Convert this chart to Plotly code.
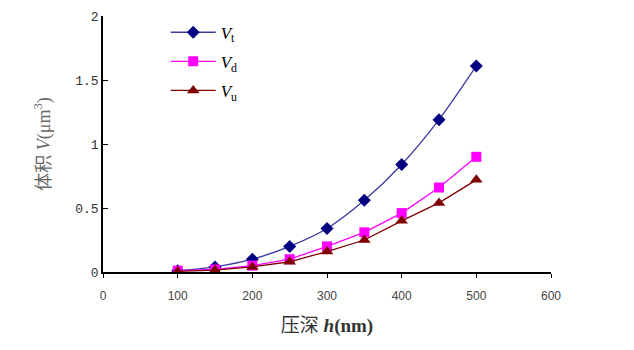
import plotly.graph_objects as go

depth = [100, 150, 200, 250, 300, 350, 400, 450, 500]
v_t = [0.01, 0.04, 0.10, 0.20, 0.34, 0.56, 0.84, 1.19, 1.61]
v_d = [0.01, 0.02, 0.05, 0.10, 0.20, 0.31, 0.46, 0.66, 0.90]
v_u = [0.005, 0.015, 0.04, 0.08, 0.16, 0.25, 0.40, 0.54, 0.72]

x_ticks = [0, 100, 200, 300, 400, 500, 600]
y_ticks = [0, 0.5, 1, 1.5, 2]
y_tick_text = ["0", "0.5", "1", "1.5", "2"]

fig = go.Figure()
fig.add_trace(go.Scatter(
    x=depth, y=v_t, name="<i>V</i><sub>t</sub>", mode="lines+markers", legendgroup="t",
    line=dict(color="#3a3aa0", width=1.3, shape="spline", smoothing=0.8),
    marker=dict(symbol="diamond", size=10, color="#000080")))
fig.add_trace(go.Scatter(
    x=depth, y=v_d, name="<i>V</i><sub>d</sub>", mode="lines+markers", legendgroup="d",
    line=dict(color="#ff00ff", width=1.3),
    marker=dict(symbol="square", size=10, color="#ff00ff")))
fig.add_trace(go.Scatter(
    x=depth, y=v_u, name="<i>V</i><sub>u</sub>", mode="lines+markers", legendgroup="u",
    line=dict(color="#800000", width=1.3),
    marker=dict(symbol="triangle-up", size=11, color="#800000")))

fig.update_layout(
    width=634, height=350,
    margin=dict(l=103, r=83, t=10, b=78),
    paper_bgcolor="white", plot_bgcolor="white",
    font=dict(family="Liberation Serif", color="#000"),
    showlegend=True,
    legend=dict(x=0.14, y=1.005, xanchor="left", yanchor="top",
                font=dict(family="Liberation Serif", size=17, color="#000"),
                bgcolor="rgba(0,0,0,0)", tracegroupgap=4, itemwidth=45),
    xaxis=dict(range=[0, 600], tickvals=x_ticks, showgrid=False, zeroline=False,
               showline=True, linecolor="#000", linewidth=2,
               ticks="outside", ticklen=4, tickcolor="#000", ticklabelstandoff=8,
               tickfont=dict(family="Liberation Sans", size=12, color="#444"),
               title=dict(text="压深 <b><i>h</i>(nm)</b>", standoff=16,
                          font=dict(family="Liberation Serif, Noto Sans CJK SC", size=19, color="#333"))),
    yaxis=dict(range=[0, 2], tickvals=y_ticks, ticktext=y_tick_text,
               showgrid=False, zeroline=False,
               showline=True, linecolor="#000", linewidth=1.5,
               ticks="inside", ticklen=5, tickcolor="#000",
               tickfont=dict(family="Liberation Mono", size=13, color="#333"),
               title=dict(text="体积 <i>V</i>(μm<sup>3</sup>)", standoff=20,
                          font=dict(family="Liberation Serif, Noto Sans CJK SC", size=18, color="#666"))),
)
fig.write_html("out.html")
